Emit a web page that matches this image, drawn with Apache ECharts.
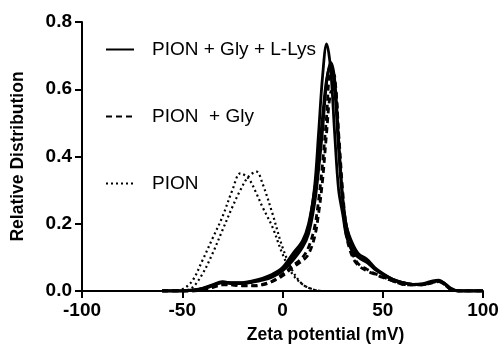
<!DOCTYPE html>
<html>
<head>
    <meta charset="utf-8">
    <title>Zeta potential distribution</title>
    <script src="https://cdn.jsdelivr.net/npm/echarts@6/dist/echarts.min.js"></script>
</head>
<body style="margin:0">
    <div id="zetaChart" style="width: 500px;height:347px;"></div>
    <script type="text/javascript">
        // x values (mV) for PION runs and for the coated particles
        var xPion = [-60, -55, -50, -45, -40, -35, -30, -25, -21, -17, -13, -10, -5, 0, 5, 10, 15, 20, 30];
        var pionRun1 = [0, 0, 0.005, 0.03, 0.09, 0.155, 0.22, 0.3, 0.35, 0.335, 0.29, 0.25, 0.19, 0.11, 0.05, 0.02, 0.005, 0, 0];
        var pionRun2 = [0, 0, 0, 0.01, 0.05, 0.11, 0.18, 0.25, 0.3, 0.34, 0.355, 0.32, 0.23, 0.13, 0.06, 0.02, 0.005, 0, 0];

        var xMain = [-60, -50, -45, -40, -35, -30, -25, -20, -15, -10,
                     -5, 0, 5, 10, 13, 16, 18, 20, 22, 24,
                     26, 28, 30, 32, 35, 38, 42, 46, 50, 55,
                     60, 65, 70, 75, 78, 81, 84, 88, 100];
        var lysRun1 = [0, 0, 0.003, 0.008, 0.018, 0.028, 0.024, 0.024, 0.028, 0.035,
                       0.045, 0.065, 0.1, 0.14, 0.19, 0.31, 0.47, 0.64, 0.735, 0.66,
                       0.47, 0.3, 0.23, 0.16, 0.115, 0.1, 0.09, 0.065, 0.05, 0.035,
                       0.025, 0.02, 0.02, 0.028, 0.03, 0.02, 0.005, 0, 0];
        var lysRun2 = [0, 0, 0.002, 0.006, 0.015, 0.025, 0.022, 0.022, 0.026, 0.032,
                       0.042, 0.06, 0.09, 0.13, 0.17, 0.26, 0.36, 0.48, 0.62, 0.68,
                       0.63, 0.45, 0.28, 0.19, 0.13, 0.1, 0.085, 0.065, 0.05, 0.033,
                       0.024, 0.02, 0.02, 0.028, 0.03, 0.022, 0.008, 0, 0];
        var lysRun3 = [0, 0, 0.002, 0.007, 0.016, 0.026, 0.025, 0.025, 0.03, 0.038,
                       0.05, 0.07, 0.11, 0.15, 0.2, 0.3, 0.4, 0.52, 0.63, 0.67,
                       0.6, 0.42, 0.27, 0.19, 0.14, 0.11, 0.095, 0.07, 0.052, 0.035,
                       0.025, 0.02, 0.022, 0.03, 0.032, 0.022, 0.007, 0, 0];
        var glyRun1 = [0, 0, 0, 0.004, 0.012, 0.02, 0.018, 0.016, 0.016, 0.02,
                       0.03, 0.05, 0.075, 0.1, 0.13, 0.19, 0.27, 0.38, 0.52, 0.65,
                       0.64, 0.45, 0.26, 0.16, 0.1, 0.075, 0.06, 0.05, 0.04, 0.03,
                       0.02, 0.018, 0.018, 0.025, 0.028, 0.018, 0.005, 0, 0];
        var glyRun2 = [0, 0, 0, 0.003, 0.01, 0.018, 0.018, 0.015, 0.015, 0.018,
                       0.028, 0.045, 0.07, 0.09, 0.11, 0.16, 0.23, 0.33, 0.47, 0.59,
                       0.6, 0.47, 0.3, 0.18, 0.11, 0.08, 0.065, 0.052, 0.042, 0.03,
                       0.02, 0.018, 0.019, 0.026, 0.028, 0.018, 0.005, 0, 0];

        var nameLys = 'PION + Gly + L-Lys';
        var nameGly = 'PION  + Gly';
        var namePion = 'PION';

        function pairs(xs, ys) {
            return xs.map(function (x, i) { return [x, ys[i]]; });
        }
        function curve(name, xs, ys, dash, width) {
            return {
                name: name,
                type: 'line',
                data: pairs(xs, ys),
                smooth: 0.35,
                symbol: 'none',
                silent: true,
                itemStyle: { color: '#000' },
                lineStyle: { color: '#000', width: width, type: dash }
            };
        }

        var font = 'Liberation Sans, Arial, sans-serif';
        var myChart = echarts.init(document.getElementById('zetaChart'));
        var option = {
            animation: false,
            backgroundColor: '#fff',
            legend: {
                data: [nameLys, nameGly, namePion],
                orient: 'vertical',
                left: 100,
                top: 35,
                itemWidth: 28,
                itemHeight: 20,
                itemGap: 48,
                selectedMode: false,
                itemStyle: { opacity: 0 },
                textStyle: { fontFamily: font, fontSize: 19, color: '#000', padding: [0, 0, 0, 13] }
            },
            grid: { left: 82, right: 17, top: 22, bottom: 56, outerBoundsMode: 'none' },
            xAxis: {
                type: 'value',
                min: -100, max: 100, interval: 50,
                name: 'Zeta potential (mV)',
                nameLocation: 'middle',
                nameGap: 35,
                nameTextStyle: { fontFamily: font, fontSize: 17.5, fontWeight: 'bold', color: '#000', padding: [0, 0, 0, 86] },
                axisLine: { onZero: false, lineStyle: { color: '#000', width: 2 } },
                axisTick: { length: 7, lineStyle: { color: '#000', width: 2 } },
                axisLabel: { margin: 10, fontFamily: font, fontSize: 19, fontWeight: 'bold', color: '#000' },
                splitLine: { show: false }
            },
            yAxis: {
                type: 'value',
                min: 0, max: 0.8, interval: 0.2,
                name: 'Relative Distribution',
                nameLocation: 'middle',
                nameGap: 55,
                nameTextStyle: { fontFamily: font, fontSize: 17.5, fontWeight: 'bold', color: '#000' },
                axisLine: { show: true, onZero: false, lineStyle: { color: '#000', width: 2 } },
                axisTick: { show: true, length: 7, lineStyle: { color: '#000', width: 2 } },
                axisLabel: {
                    margin: 10, fontFamily: font, fontSize: 19, fontWeight: 'bold', color: '#000',
                    formatter: function (v) { return v.toFixed(1); }
                },
                splitLine: { show: false }
            },
            series: [
                curve(namePion, xPion, pionRun1, [2, 3], 2.2),
                curve(namePion, xPion, pionRun2, [2, 3], 2.2),
                curve(nameGly, xMain, glyRun1, [6, 4], 2.8),
                curve(nameGly, xMain, glyRun2, [6, 4], 2.8),
                curve(nameLys, xMain, lysRun1, 'solid', 2.8),
                curve(nameLys, xMain, lysRun2, 'solid', 2.8),
                curve(nameLys, xMain, lysRun3, 'solid', 2.8)
            ]
        };
        myChart.setOption(option);
    </script>
</body>
</html>
